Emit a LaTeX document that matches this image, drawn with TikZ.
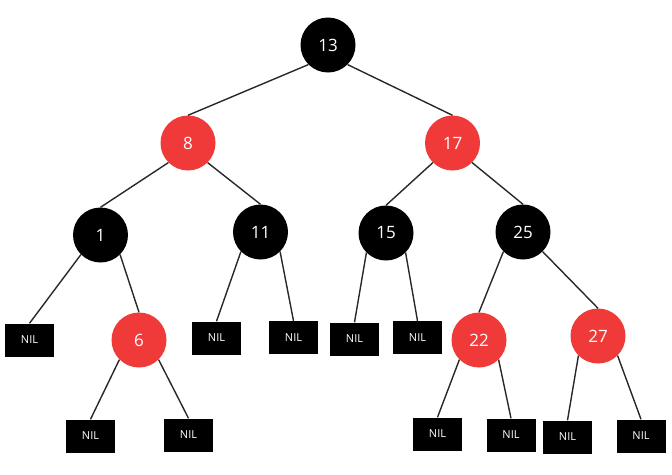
\documentclass[tikz,border=0pt]{standalone}
\usepackage{fontspec}
\setmainfont{Open Sans}
\definecolor{rbred}{RGB}{240,58,58}
\definecolor{edgecol}{RGB}{40,40,40}
\begin{document}
\begin{tikzpicture}[x=1pt,y=-1pt,
  bnode/.style={circle,fill=black,minimum size=55pt,inner sep=0pt,text=white,font=\fontsize{17}{19}\selectfont},
  rnode/.style={circle,fill=rbred,minimum size=55pt,inner sep=0pt,text=white,font=\fontsize{17}{19}\selectfont},
  nilbox/.style={rectangle,fill=black,minimum width=49pt,minimum height=33pt,inner sep=0pt,text=white,font=\fontsize{11}{13}\selectfont},
  edge/.style={draw=edgecol,line width=1.4pt}]
\useasboundingbox (0,0) rectangle (672,474);
\node[bnode] (n13) at (328,45) {13};
\node[rnode] (n8) at (188,143) {8};
\node[rnode] (n17) at (452.5,143) {17};
\node[bnode] (n1) at (100.5,235) {1};
\node[bnode] (n11) at (260.5,232) {11};
\node[bnode] (n15) at (386,233) {15};
\node[bnode] (n25) at (523,232) {25};
\node[nilbox] (l1) at (29.5,340) {NIL};
\node[rnode] (n6) at (139,340) {6};
\node[nilbox] (l11a) at (216.5,338) {NIL};
\node[nilbox] (l11b) at (293.5,337.5) {NIL};
\node[nilbox] (l15a) at (354.5,339) {NIL};
\node[nilbox] (l15b) at (417.5,337.5) {NIL};
\node[rnode] (n22) at (479,340) {22};
\node[rnode] (n27) at (598,336) {27};
\node[nilbox] (l6a) at (90.5,436) {NIL};
\node[nilbox] (l6b) at (188.5,435) {NIL};
\node[nilbox] (l22a) at (437.5,434) {NIL};
\node[nilbox] (l22b) at (511,435) {NIL};
\node[nilbox] (l27a) at (567.5,437) {NIL};
\node[nilbox] (l27b) at (641,436) {NIL};
\draw[edge] (n13.south west) -- (n8.north);
\draw[edge] (n13.south east) -- (n17.north);
\draw[edge] (n8.south west) -- (n1.north);
\draw[edge] (n8.south east) -- (n11.north);
\draw[edge] (n17.south west) -- (n15.north);
\draw[edge] (n17.south east) -- (n25.north);
\draw[edge] (n1.south west) -- (l1.north);
\draw[edge] (n1.south east) -- (n6.north);
\draw[edge] (n11.south west) -- (l11a.north);
\draw[edge] (n11.south east) -- (l11b.north);
\draw[edge] (n15.south west) -- (l15a.north);
\draw[edge] (n15.south east) -- (l15b.north);
\draw[edge] (n25.south west) -- (n22.north);
\draw[edge] (n25.south east) -- (n27.north);
\draw[edge] (n6.south west) -- (l6a.north);
\draw[edge] (n6.south east) -- (l6b.north);
\draw[edge] (n22.south west) -- (l22a.north);
\draw[edge] (n22.south east) -- (l22b.north);
\draw[edge] (n27.south west) -- (l27a.north);
\draw[edge] (n27.south east) -- (l27b.north);
\end{tikzpicture}
\end{document}
